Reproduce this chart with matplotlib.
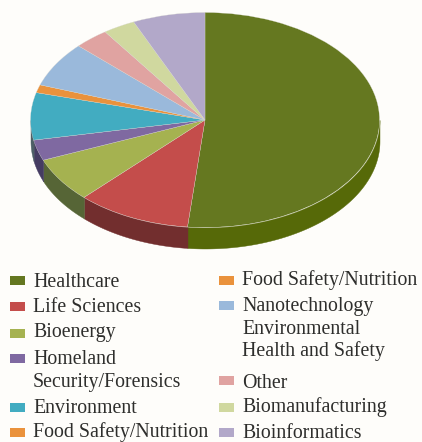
"""Share of funding by application area, drawn as a tilted pie with a side wall."""

import numpy as np
import matplotlib.pyplot as plt
from matplotlib.patches import Rectangle

categories = ["Healthcare", "Life Sciences", "Bioenergy", "Homeland Security/Forensics",
              "Environment", "Food Safety/Nutrition",
              "Nanotechnology Environmental Health and Safety",
              "Other", "Biomanufacturing", "Bioinformatics"]
shares = [51.6, 10.6, 6.7, 3.1, 7.1, 1.2, 6.8, 3.2, 3.0, 6.7]
top_colors = ["#657820", "#c44d4b", "#a5b250", "#7f69a1", "#42acc1",
              "#ea923c", "#9ab9db", "#e0a3a1", "#d0d89f", "#b2a8c9"]
wall_colors = ["#566908", "#722e2e", "#566536", "#453c62", "#4d5f66",
               "#ea923c", "#9ab9db", "#e0a3a1", "#d0d89f", "#b2a8c9"]

left_labels = ["Healthcare", "Life Sciences", "Bioenergy", "Homeland\nSecurity/Forensics",
               "Environment", "Food Safety/Nutrition"]
left_colors = ["#647720", "#c44d4b", "#a5b250", "#7f69a1", "#42acc1", "#ea923c"]
right_labels = ["Food Safety/Nutrition", "Nanotechnology\nEnvironmental\nHealth and Safety",
                "Other", "Biomanufacturing", "Bioinformatics"]
right_colors = ["#ea923c", "#9ab9db", "#e0a3a1", "#d0d89f", "#b2a8c9"]

# legend layout, in pixels from the top left of the figure
left_swatch_y = [276, 302, 329, 354, 403, 428]
left_baseline_y = [287, 312, 337, 364, 413, 437]
right_swatch_y = [276, 301, 376, 403, 428]
right_baseline_y = [285, 311, 388, 412, 437.5]
LINE_STEP = 22.7

W, H = 422, 442
BG = "#fefdfa"
CX, CY, RX, RY, DEPTH = 205, 120, 174.5, 107.5, 21

plt.rcParams["font.family"] = ["Liberation Serif", "DejaVu Serif"]

fig = plt.figure(figsize=(W / 100, H / 100), dpi=100, facecolor=BG)

# pie axes: one data unit is one radius, squashed into an ellipse by the limits
ax = fig.add_axes([0, 0, 1, 1], facecolor="none")

edges = np.cumsum([0] + shares) / sum(shares) * 360
for start, end, color in zip(edges[:-1], edges[1:], wall_colors):
    # only the part of a wedge on the front half of the ellipse shows a wall
    lo, hi = max(start, 90), min(end, 270)
    if hi <= lo:
        continue
    t = np.radians(np.linspace(lo, hi, 120))
    ax.fill_between(np.sin(t), np.cos(t), np.cos(t) - DEPTH / RY, color=color, linewidth=0.3)

ax.pie(shares, colors=top_colors, startangle=90, counterclock=False, radius=1,
       wedgeprops=dict(edgecolor="#d8d8d0", linewidth=0.2))
ax.set_aspect("auto")
ax.set_xlim(-CX / RX, (W - CX) / RX)
ax.set_ylim((CY - H) / RY, CY / RY)
ax.axis("off")

# legend axes in pixel coordinates
lx = fig.add_axes([0, 0, 1, 1], facecolor="none")
lx.set_xlim(0, W)
lx.set_ylim(H, 0)
lx.axis("off")


def draw_column(labels, colors, swatch_y, baseline_y, swatch_x, text_x):
    for label, color, sy, by in zip(labels, colors, swatch_y, baseline_y):
        lx.add_patch(Rectangle((swatch_x, sy), 15, 8.5, facecolor=color, edgecolor="none"))
        # wrapped labels get one text per line so the leading stays fixed
        for i, line in enumerate(label.split("\n")):
            lx.text(text_x, by + i * LINE_STEP, line, fontsize=14.3, color="#2e2e2c",
                    va="baseline", ha="left")


draw_column(left_labels, left_colors, left_swatch_y, left_baseline_y, 10, 33)
draw_column(right_labels, right_colors, right_swatch_y, right_baseline_y, 219, 242)

fig.savefig("out.png", dpi=100, facecolor=BG)
